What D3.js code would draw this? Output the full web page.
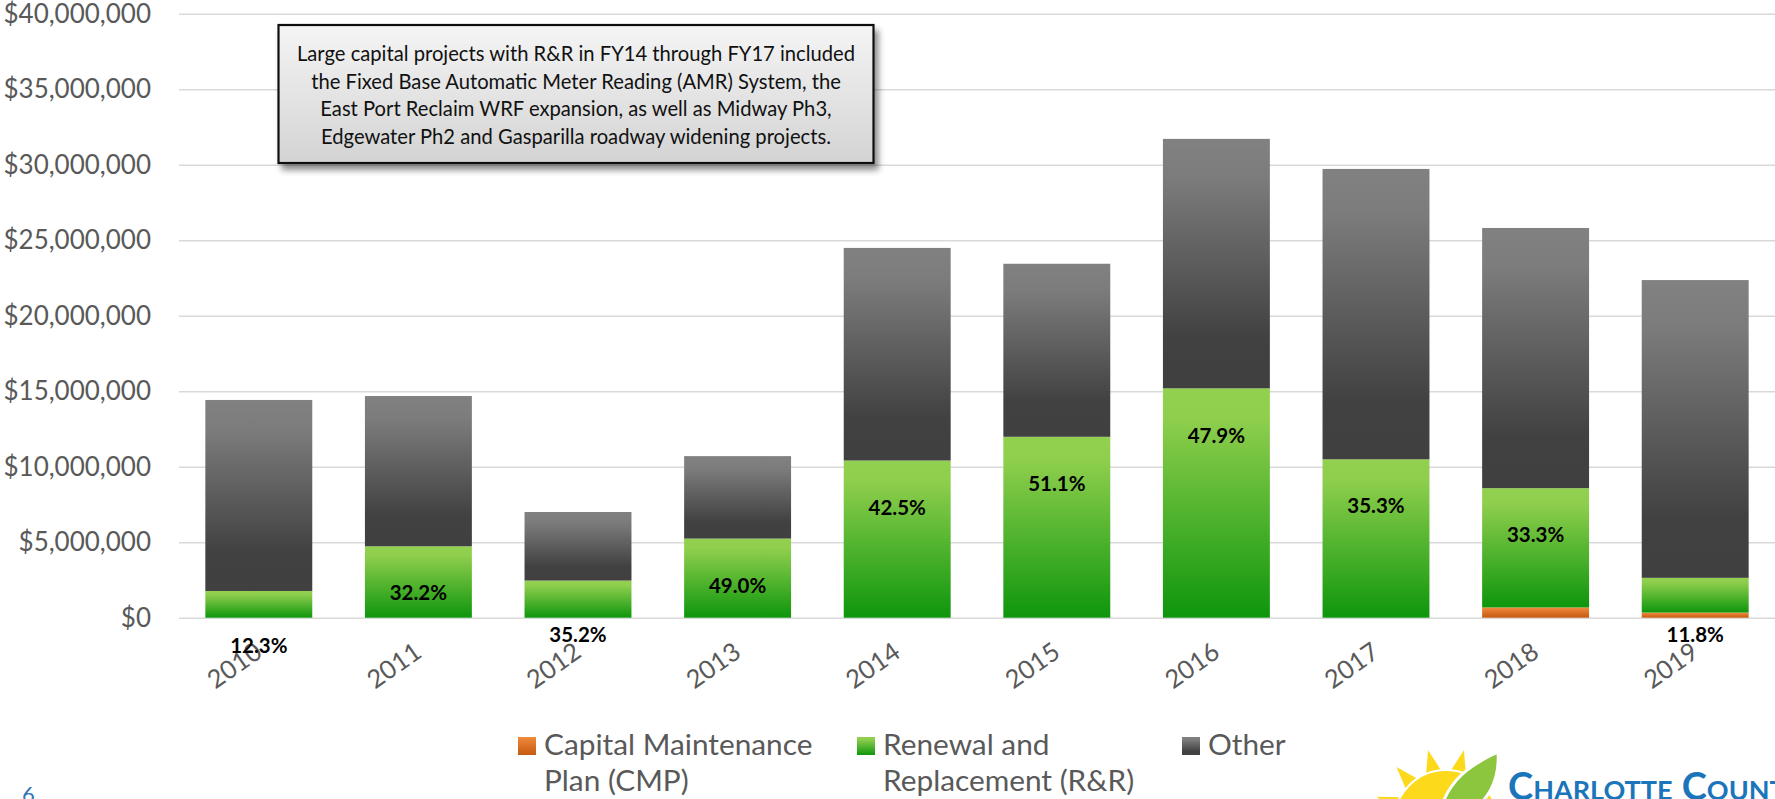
<!DOCTYPE html>
<html>
<head>
<meta charset="utf-8">
<script src="https://cdn.jsdelivr.net/npm/d3@7"></script>
<style>
body { margin: 0; background: #fff; overflow: hidden; }
svg text { font-family: Lato, "Open Sans", sans-serif; }
</style>
</head>
<body>
<svg id="wrapper"></svg>
<script>
// chart data (in dollars)
let years = ["2010","2011","2012","2013","2014","2015","2016","2017","2018","2019"];
let cmp   = [0, 0, 0, 0, 0, 0, 0, 0, 680000, 340000];
let rr    = [1770000, 4730000, 2460000, 5240000, 10410000, 11980000, 15190000, 10490000, 7900000, 2300000];
let other = [12650000, 9950000, 4540000, 5460000, 14080000, 11460000, 16520000, 19230000, 17230000, 19720000];
let pctLabels = ["12.3%","32.2%","35.2%","49.0%","42.5%","51.1%","47.9%","35.3%","33.3%","11.8%"];
let yTicks = [0, 5000000, 10000000, 15000000, 20000000, 25000000, 30000000, 35000000, 40000000];
let keys = ["cmp","rr","other"];
let legendLabels = [["Capital Maintenance","Plan (CMP)"],["Renewal and","Replacement (R&R)"],["Other"]];
let noteLines = [
  "Large capital projects with R&R in FY14 through FY17 included",
  "the Fixed Base Automatic Meter Reading (AMR) System, the",
  "East Port Reclaim WRF expansion, as well as Midway Ph3,",
  "Edgewater Ph2 and Gasparilla roadway widening projects."
];

let width = 1775, height = 799;
let plotLeft = 179, plotRight = 1775, plotTop = 13.7, plotBottom = 617.7;

let svg = d3.select('#wrapper')
  .attr('width', width)
  .attr('height', height);

let rows = years.map(function(y, i) {
  return {year: y, cmp: cmp[i], rr: rr[i], other: other[i], pct: pctLabels[i]};
});

//gradients
let defs = svg.append('defs');
let grads = {
  cmp:   [[0,'#f08a3c'],[1,'#c55a11']],
  rr:    [[0,'#92d050'],[0.12,'#90cf4e'],[1,'#0e960c']],
  other: [[0,'#818181'],[0.15,'#7c7c7c'],[0.8,'#414141'],[1,'#404040']],
  note:  [[0,'#f5f5f5'],[1,'#d3d3d3']]
};
Object.keys(grads).forEach(function(k) {
  let g = defs.append('linearGradient').attr('id','grad-'+k)
    .attr('x1',0).attr('y1',0).attr('x2',0).attr('y2',1);
  grads[k].forEach(function(s) {
    g.append('stop').attr('offset', s[0]).attr('stop-color', s[1]);
  });
});
let shadow = defs.append('filter').attr('id','shadow')
  .attr('x','-10%').attr('y','-10%').attr('width','130%').attr('height','140%');
shadow.append('feDropShadow').attr('dx',4).attr('dy',6).attr('stdDeviation',3)
  .attr('flood-color','#000').attr('flood-opacity',0.45);

//scales
let xScale = d3.scaleBand()
  .domain(years)
  .range([plotLeft, plotRight])
  .paddingInner(0.33)
  .paddingOuter(0.165);

let yScale = d3.scaleLinear()
  .domain([0, 40000000])
  .range([plotBottom, plotTop]);

//gridlines
svg.append('g')
  .attr('class','grid')
  .attr('transform','translate('+plotLeft+',0)')
  .call(d3.axisRight(yScale).tickValues(yTicks).tickSize(plotRight-plotLeft).tickFormat(''))
  .call(function(g) {
    g.select('.domain').remove();
    g.selectAll('line').attr('stroke','#d9d9d9').attr('stroke-width',1.6);
  });

//y axis labels
svg.append('g')
  .attr('transform','translate('+plotLeft+',0)')
  .call(d3.axisLeft(yScale).tickValues(yTicks).tickSize(0).tickPadding(28)
    .tickFormat(function(d){ return '$' + d3.format(',')(d); }))
  .call(function(g) {
    g.select('.domain').remove();
    g.selectAll('text').attr('fill','#595959').style('font-size','26px');
  });

//stacked bars
let stacked = d3.stack().keys(keys)(rows);

svg.append('g').selectAll('g')
  .data(stacked)
  .join('g')
  .attr('fill', function(d){ return 'url(#grad-'+d.key+')'; })
  .selectAll('rect')
  .data(function(d){ return d; })
  .join('rect')
  .attr('x', function(d){ return xScale(d.data.year); })
  .attr('y', function(d){ return yScale(d[1]); })
  .attr('width', xScale.bandwidth())
  .attr('height', function(d){ return yScale(d[0]) - yScale(d[1]); });

//x axis labels
svg.append('g')
  .attr('transform','translate(0,'+plotBottom+')')
  .call(d3.axisBottom(xScale).tickSize(0))
  .call(function(g) {
    g.select('.domain').remove();
    g.selectAll('text')
      .attr('fill','#595959')
      .style('font-size','25.5px')
      .attr('y', null).attr('dy', null)
      .attr('text-anchor','end')
      .attr('transform','translate(5,38) rotate(-35)');
  });

//percentage labels (small segments get their label under the axis)
let belowNudge = {"2010": 28};
let rrTop = stacked[1];
svg.append('g').selectAll('text')
  .data(rrTop)
  .join('text')
  .attr('x', function(d){ return xScale(d.data.year) + xScale.bandwidth()/2; })
  .attr('y', function(d){
    let h = yScale(0) - yScale(d[1]);
    if (h > 60) return yScale(d[1]) + 47;
    return yScale(0) + (belowNudge[d.data.year] || 17);
  })
  .attr('dy','0.35em')
  .attr('text-anchor','middle')
  .attr('fill','#000')
  .style('font-size','20.5px')
  .style('font-weight','bold')
  .text(function(d){ return d.data.pct; });

//annotation box
let note = svg.append('g');
note.append('rect')
  .attr('x',278.5).attr('y',25).attr('width',595).attr('height',138)
  .attr('fill','url(#grad-note)')
  .attr('stroke','#111').attr('stroke-width',2.2)
  .attr('filter','url(#shadow)');
note.selectAll('text')
  .data(noteLines)
  .join('text')
  .attr('x', 576)
  .attr('y', function(d,i){ return 61 + i*27.5; })
  .attr('text-anchor','middle')
  .attr('fill','#111')
  .style('font-size','20.2px')
  .text(function(d){ return d; });

//legend
let legendX = [518, 857, 1182];
let legend = svg.append('g');
keys.forEach(function(k, i) {
  let lg = legend.append('g').attr('transform','translate('+legendX[i]+',0)');
  lg.append('rect').attr('x',0).attr('y',737).attr('width',18).attr('height',18)
    .attr('fill','url(#grad-'+k+')');
  lg.selectAll('text')
    .data(legendLabels[i])
    .join('text')
    .attr('x', 26)
    .attr('y', function(d,j){ return 755 + j*36; })
    .attr('fill','#595959')
    .style('font-size','29.8px')
    .text(function(d){ return d; });
});

//page number
svg.append('text')
  .attr('x',22).attr('y',802)
  .attr('fill','#2e75b6')
  .style('font-size','22px')
  .text('6');

//logo
let logo = svg.append('g');
let sunC = [1446, 822];
[200, 228, 256, 284, 312].forEach(function(a) {
  let r = a * Math.PI / 180;
  let tip = [sunC[0] + 74*Math.cos(r), sunC[1] + 74*Math.sin(r)];
  let b1 = [sunC[0] + 50*Math.cos(r-0.17), sunC[1] + 50*Math.sin(r-0.17)];
  let b2 = [sunC[0] + 50*Math.cos(r+0.17), sunC[1] + 50*Math.sin(r+0.17)];
  logo.append('path').attr('d','M'+b1+'L'+tip+'L'+b2+'Z').attr('fill','#fdd91c');
});
logo.append('circle').attr('cx',sunC[0]).attr('cy',sunC[1]).attr('r',52)
  .attr('fill','#fdd91c').attr('stroke','#fff').attr('stroke-width',2);
logo.append('path')
  .attr('d','M1440,812 C1448,780 1470,765 1498,752 C1500,780 1488,805 1462,815 Z')
  .attr('fill','#8cc63f').attr('stroke','#fff').attr('stroke-width',3);
logo.append('text')
  .attr('x',1508).attr('y',800)
  .attr('fill','#1b75bb')
  .style('font-size','38px')
  .style('font-weight','bold')
  .style('font-variant','small-caps')
  .text('Charlotte County');
</script>
</body>
</html>
